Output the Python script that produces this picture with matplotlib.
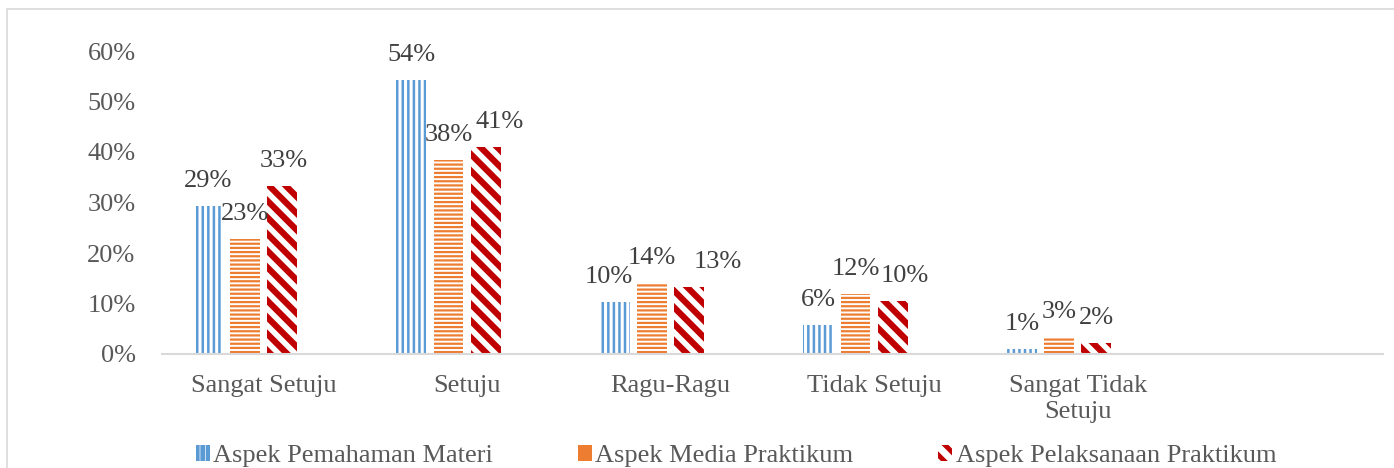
import matplotlib
matplotlib.use("Agg")
import matplotlib.pyplot as plt
from matplotlib.patches import Rectangle, Patch
import numpy as np

categories = ["Sangat Setuju", "Setuju", "Ragu-Ragu", "Tidak Setuju", "Sangat Tidak\nSetuju", ""]
series_names = ["Aspek Pemahaman Materi", "Aspek Media Praktikum", "Aspek Pelaksanaan Praktikum"]
pemahaman = [0.294, 0.543, 0.103, 0.057, 0.010]
media = [0.227, 0.385, 0.141, 0.119, 0.034]
pelaksanaan = [0.333, 0.410, 0.133, 0.104, 0.022]
yticks = [0, 0.1, 0.2, 0.3, 0.4, 0.5, 0.6]

colors = ["#5B9BD5", "#ED7D31", "#C00000"]
hatches = ["|||", "----", "\\\\"]
hatch_lw = [1.8, 1.6, 4.5]
legend_hatch_lw = [1.0, 1.0, 3.5]
# horizontal nudges (points) of data labels to avoid overlap, as in the reference
label_nudge = [[0, 0, -4, 0, 0], [0, 0, 0, 0, 0], [1, 10, 21, 9, 0]]

plt.rcParams['font.family'] = ['Liberation Serif', 'DejaVu Serif']
FS = 19

fig = plt.figure(figsize=(13.94, 4.68), dpi=100)
W, H = 1394, 468
fig.patches.append(Rectangle((7 / W, -0.1), 1.2, 1 - 9 / H + 0.1, transform=fig.transFigure,
                             fill=False, edgecolor="#D9D9D9", linewidth=1.2, zorder=0))

ax = fig.add_axes([162 / W, (H - 354) / H, (1383 - 162) / W, (354 - 51) / H])
ax.set_facecolor("none")
x = np.arange(len(pemahaman))
offsets = [-0.275, -0.092, 0.09]
bw = 0.147
handles = []
for si, (vals, off, c, h, hl, name) in enumerate(zip([pemahaman, media, pelaksanaan], offsets, colors, hatches, hatch_lw, series_names)):
    plt.rcParams['hatch.linewidth'] = hl
    bars = ax.bar(x + off, vals, width=bw, facecolor="white", edgecolor=c, hatch=h, linewidth=0)
    for b in bars:
        if hasattr(b, "set_hatch_linewidth"):
            b.set_hatch_linewidth(hl)
    for j, (xi, v) in enumerate(zip(x + off, vals)):
        ax.annotate(f"{v*100:.0f}%", (xi, v), xytext=(label_nudge[si][j], 18), textcoords="offset points",
                    ha="center", va="center", fontsize=FS, color="#404040")
    plt.rcParams['hatch.linewidth'] = legend_hatch_lw[si]
    p = Patch(facecolor="white", edgecolor=c, hatch=h, linewidth=0)
    if hasattr(p, "set_hatch_linewidth"):
        p.set_hatch_linewidth(legend_hatch_lw[si])
    handles.append(p)

ax.set_xlim(-0.5, 5.5)
ax.set_ylim(0, 0.6)
ax.set_yticks(yticks)
ax.set_yticklabels([f"{int(round(t*100))}%" for t in yticks], fontsize=FS, color="#595959")
ax.set_xticks(np.arange(len(categories)))
ax.set_xticklabels(categories, fontsize=FS, color="#595959", linespacing=1.25)
ax.tick_params(axis="y", length=0, pad=19)
ax.tick_params(axis="x", length=0, pad=15)
for s in ["top", "right", "left"]:
    ax.spines[s].set_visible(False)
ax.spines["bottom"].set_color("#D9D9D9")
ax.spines["bottom"].set_linewidth(1.5)

leg = fig.legend(handles, series_names, loc="center", bbox_to_anchor=(736 / W, 1 - 456 / H), ncol=3,
                 frameon=False, fontsize=FS, handlelength=0.55, handleheight=0.6,
                 handletextpad=0.12, columnspacing=3.2, labelcolor="#595959")

fig.savefig("out.png", dpi=100)
